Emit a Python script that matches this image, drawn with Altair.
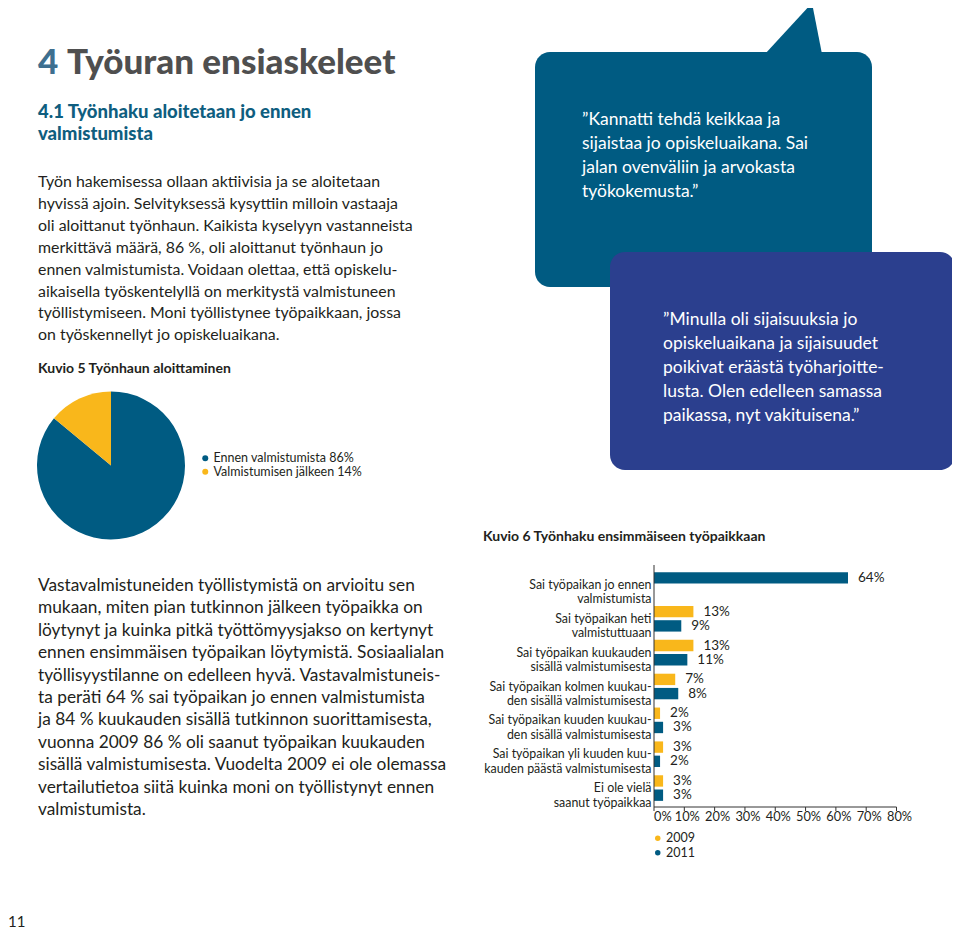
import altair as alt
import pandas as pd

# ---------------- data ----------------
title_num = "4"
title_text = "Työuran ensiaskeleet"
subtitle_lines = ["4.1 Työnhaku aloitetaan jo ennen", "valmistumista"]
para1_lines = [
    "Työn hakemisessa ollaan aktiivisia ja se aloitetaan",
    "hyvissä ajoin. Selvityksessä kysyttiin milloin vastaaja",
    "oli aloittanut työnhaun. Kaikista kyselyyn vastanneista",
    "merkittävä määrä, 86 %, oli aloittanut työnhaun jo",
    "ennen valmistumista. Voidaan olettaa, että opiskelu-",
    "aikaisella työskentelyllä on merkitystä valmistuneen",
    "työllistymiseen. Moni työllistynee työpaikkaan, jossa",
    "on työskennellyt jo opiskeluaikana.",
]
caption5 = "Kuvio 5 Työnhaun aloittaminen"
pie_names = ["Ennen valmistumista", "Valmistumisen jälkeen"]
pie_values = [86, 14]

caption6 = "Kuvio 6 Työnhaku ensimmäiseen työpaikkaan"
para2_lines = [
    "Vastavalmistuneiden työllistymistä on arvioitu sen",
    "mukaan, miten pian tutkinnon jälkeen työpaikka on",
    "löytynyt ja kuinka pitkä työttömyysjakso on kertynyt",
    "ennen ensimmäisen työpaikan löytymistä. Sosiaalialan",
    "työllisyystilanne on edelleen hyvä. Vastavalmistuneis-",
    "ta peräti 64 % sai työpaikan jo ennen valmistumista",
    "ja 84 % kuukauden sisällä tutkinnon suorittamisesta,",
    "vuonna 2009 86 % oli saanut työpaikan kuukauden",
    "sisällä valmistumisesta. Vuodelta 2009 ei ole olemassa",
    "vertailutietoa siitä kuinka moni on työllistynyt ennen",
    "valmistumista.",
]
quote1_lines = [
    "”Kannatti tehdä keikkaa ja",
    "sijaistaa jo opiskeluaikana. Sai",
    "jalan ovenväliin ja arvokasta",
    "työkokemusta.”",
]
quote2_lines = [
    "”Minulla oli sijaisuuksia jo",
    "opiskeluaikana ja sijaisuudet",
    "poikivat eräästä työharjoitte-",
    "lusta. Olen edelleen samassa",
    "paikassa, nyt vakituisena.”",
]
bar_categories = [
    "Sai työpaikan jo ennen\nvalmistumista",
    "Sai työpaikan heti\nvalmistuttuaan",
    "Sai työpaikan kuukauden\nsisällä valmistumisesta",
    "Sai työpaikan kolmen kuukau-\nden sisällä valmistumisesta",
    "Sai työpaikan kuuden kuukau-\nden sisällä valmistumisesta",
    "Sai työpaikan yli kuuden kuu-\nkauden päästä valmistumisesta",
    "Ei ole vielä\nsaanut työpaikkaa",
]
years = ["2009", "2011"]
values_2009 = [None, 13, 13, 7, 2, 3, 3]
values_2011 = [64, 9, 11, 8, 3, 2, 3]
x_ticks = [0, 10, 20, 30, 40, 50, 60, 70, 80]
page_number = "11"

# ---------------- style ----------------
FONT = "Lato"
BLUE = "#005b82"
YELLOW = "#f9b71b"
INDIGO = "#2b3f8e"
TEXT = "#231f20"
GRAY_TITLE = "#4f4f4f"
TITLE_BLUE = "#3e6f8f"
SUB_BLUE = "#0f5e7f"
AXIS = "#333333"
W, H = 944, 924


def px(v):
    return v - 8


dummy = alt.Data(values=[{"k": 1}])


def text_block(lines, x, y, size, color, weight="normal", lh=None, align="left"):
    return alt.Chart(dummy).mark_text(
        align=align, baseline="alphabetic", font=FONT, fontSize=size,
        fontWeight=weight, color=color, lineHeight=lh if lh else size * 1.2,
    ).encode(x=alt.value(px(x)), y=alt.value(px(y)), text=alt.value(lines))


def box(x1, x2, y1, y2, color):
    return alt.Chart(dummy).mark_rect(cornerRadius=15, color=color).encode(
        x=alt.value(px(x1)), x2=alt.value(px(x2)),
        y=alt.value(px(y1)), y2=alt.value(px(y2)))


TAIL = "M -1 0.93 L 0.649 -0.86 L 1 0.93 Z"
tail = alt.Chart(dummy).mark_point(
    shape=TAIL, size=3249, filled=True, opacity=1, color=BLUE, strokeWidth=0
).encode(x=alt.value(px(793.5)), y=alt.value(px(27.5)))

# ---------------- pie ----------------
pie_df = pd.DataFrame({"name": pie_names, "value": pie_values, "ord": list(range(len(pie_names)))})
pie_labels = [f"{n} {v}%" for n, v in zip(pie_names, pie_values)]
pie = alt.Chart(pie_df).transform_calculate(
    legend_label="datum.name + ' ' + datum.value + '%'"
).mark_arc(outerRadius=74).encode(
    theta=alt.Theta("value:Q", stack=True),
    order=alt.Order("ord:Q"),
    color=alt.Color(
        "legend_label:N",
        scale=alt.Scale(domain=pie_labels, range=[BLUE, YELLOW]),
        legend=alt.Legend(
            orient="none", legendX=px(199), legendY=px(452), title=None,
            symbolType="circle", symbolSize=36, symbolStrokeWidth=0,
            labelFont=FONT, labelFontSize=12.5, labelColor=TEXT,
            labelOffset=2, rowPadding=0.5, padding=0,
        ),
    ),
    x=alt.value(px(111)), y=alt.value(px(465.5)),
)

# ---------------- bars ----------------
rows = []
for i, cat in enumerate(bar_categories):
    slot = 0
    for yr, vals in zip(years, [values_2009, values_2011]):
        v = vals[i]
        if v is None:
            continue
        rows.append({"cat": cat, "year": yr, "value": v, "slot": slot})
        slot += 1
bar_df = pd.DataFrame(rows)

x_scale = alt.Scale(domain=[x_ticks[0], x_ticks[-1]], range=[px(654), px(896.5)])
y_scale = alt.Scale(domain=bar_categories, range=[px(568), px(805)],
                    paddingInner=0.16, paddingOuter=0.08)
off_scale = alt.Scale(paddingInner=0.2, paddingOuter=0.1)

bars = alt.Chart(bar_df).mark_bar().encode(
    x=alt.X("value:Q", scale=x_scale, axis=None),
    y=alt.Y("cat:N", scale=y_scale, axis=None),
    yOffset=alt.YOffset("slot:O", scale=off_scale),
    color=alt.Color(
        "year:N",
        scale=alt.Scale(domain=years, range=[YELLOW, BLUE]),
        legend=alt.Legend(
            orient="none", legendX=px(651.5), legendY=px(832), title=None,
            symbolType="circle", symbolSize=30, symbolStrokeWidth=0,
            labelFont=FONT, labelFontSize=12.5, labelColor=TEXT,
            labelOffset=2, rowPadding=1.5, padding=0,
        ),
    ),
)

value_labels = alt.Chart(bar_df).transform_calculate(
    label="datum.value + '%'"
).mark_text(align="left", baseline="middle", dx=10, font=FONT, fontSize=13.5, color=TEXT).encode(
    x=alt.X("value:Q", scale=x_scale, axis=None),
    y=alt.Y("cat:N", scale=y_scale, axis=None),
    yOffset=alt.YOffset("slot:O", scale=off_scale),
    text="label:N",
)

cat_df = pd.DataFrame({"cat": bar_categories})
cat_labels = alt.Chart(cat_df).mark_text(
    align="right", baseline="middle", lineBreak="\n", lineHeight=14.5,
    font=FONT, fontSize=12.4, color=TEXT,
).encode(
    y=alt.Y("cat:N", scale=y_scale, axis=None),
    x=alt.value(px(651.5)),
    text="cat:N",
)

ticks_df = pd.DataFrame({"v": x_ticks})
axis_h = alt.Chart(ticks_df).mark_rule(color=AXIS, strokeWidth=1).encode(
    x=alt.X("min(v):Q", scale=x_scale, axis=None), x2=alt.X2("max(v):Q"),
    y=alt.value(px(807)))
axis_v = alt.Chart(ticks_df).mark_rule(color=AXIS, strokeWidth=1).encode(
    x=alt.X("min(v):Q", scale=x_scale, axis=None),
    y=alt.value(px(565)), y2=alt.value(px(807)))
tick_marks = alt.Chart(ticks_df).mark_rule(color=AXIS, strokeWidth=1).encode(
    x=alt.X("v:Q", scale=x_scale, axis=None),
    y=alt.value(px(807)), y2=alt.value(px(811)))
tick_first = alt.Chart(ticks_df).transform_filter(f"datum.v == {x_ticks[0]}").transform_calculate(
    label="datum.v + '%'"
).mark_text(align="left", baseline="alphabetic", font=FONT, fontSize=12.8, color=TEXT).encode(
    x=alt.X("v:Q", scale=x_scale, axis=None), y=alt.value(px(821)), text="label:N")
tick_rest = alt.Chart(ticks_df).transform_filter(f"datum.v > {x_ticks[0]}").transform_calculate(
    label="datum.v + '%'"
).mark_text(align="center", baseline="alphabetic", dx=3, font=FONT, fontSize=12.8, color=TEXT).encode(
    x=alt.X("v:Q", scale=x_scale, axis=None), y=alt.value(px(821)), text="label:N")

# ---------------- texts ----------------
layers = [
    box(535, 872, 52, 287, BLUE),
    tail,
    text_block(quote1_lines, 582, 125, 17.5, "white", lh=24),
    box(610, 955, 252, 470, INDIGO),
    text_block(quote2_lines, 663, 325, 17.5, "white", lh=24),
    text_block([title_num], 38, 74, 35, TITLE_BLUE, weight=900),
    text_block([title_text], 67, 74, 35, GRAY_TITLE, weight=900),
    text_block(subtitle_lines, 38, 118, 18.5, SUB_BLUE, weight=900, lh=21.5),
    text_block(para1_lines, 38, 187, 15.9, TEXT, lh=21.9),
    text_block([caption5], 38, 373, 14, TEXT, weight="bold"),
    pie,
    text_block([caption6], 483, 541, 14, TEXT, weight="bold"),
    text_block(para2_lines, 38, 591, 17.3, TEXT, lh=22.4),
    bars, value_labels, cat_labels,
    axis_v, axis_h, tick_marks, tick_first, tick_rest,
    alt.Chart(dummy).mark_text(align="left", baseline="alphabetic", font=FONT, fontSize=15, color=TEXT).encode(
        x=alt.value(0), y=alt.value(px(927)), text=alt.value(page_number)),
]

chart = alt.layer(*layers).properties(
    width=W, height=H, padding=0, autosize=alt.AutoSizeParams(type="none")
).resolve_scale(color="independent").configure_view(stroke=None)

chart.save("out.html", embed_options={"renderer": "svg", "actions": False})
